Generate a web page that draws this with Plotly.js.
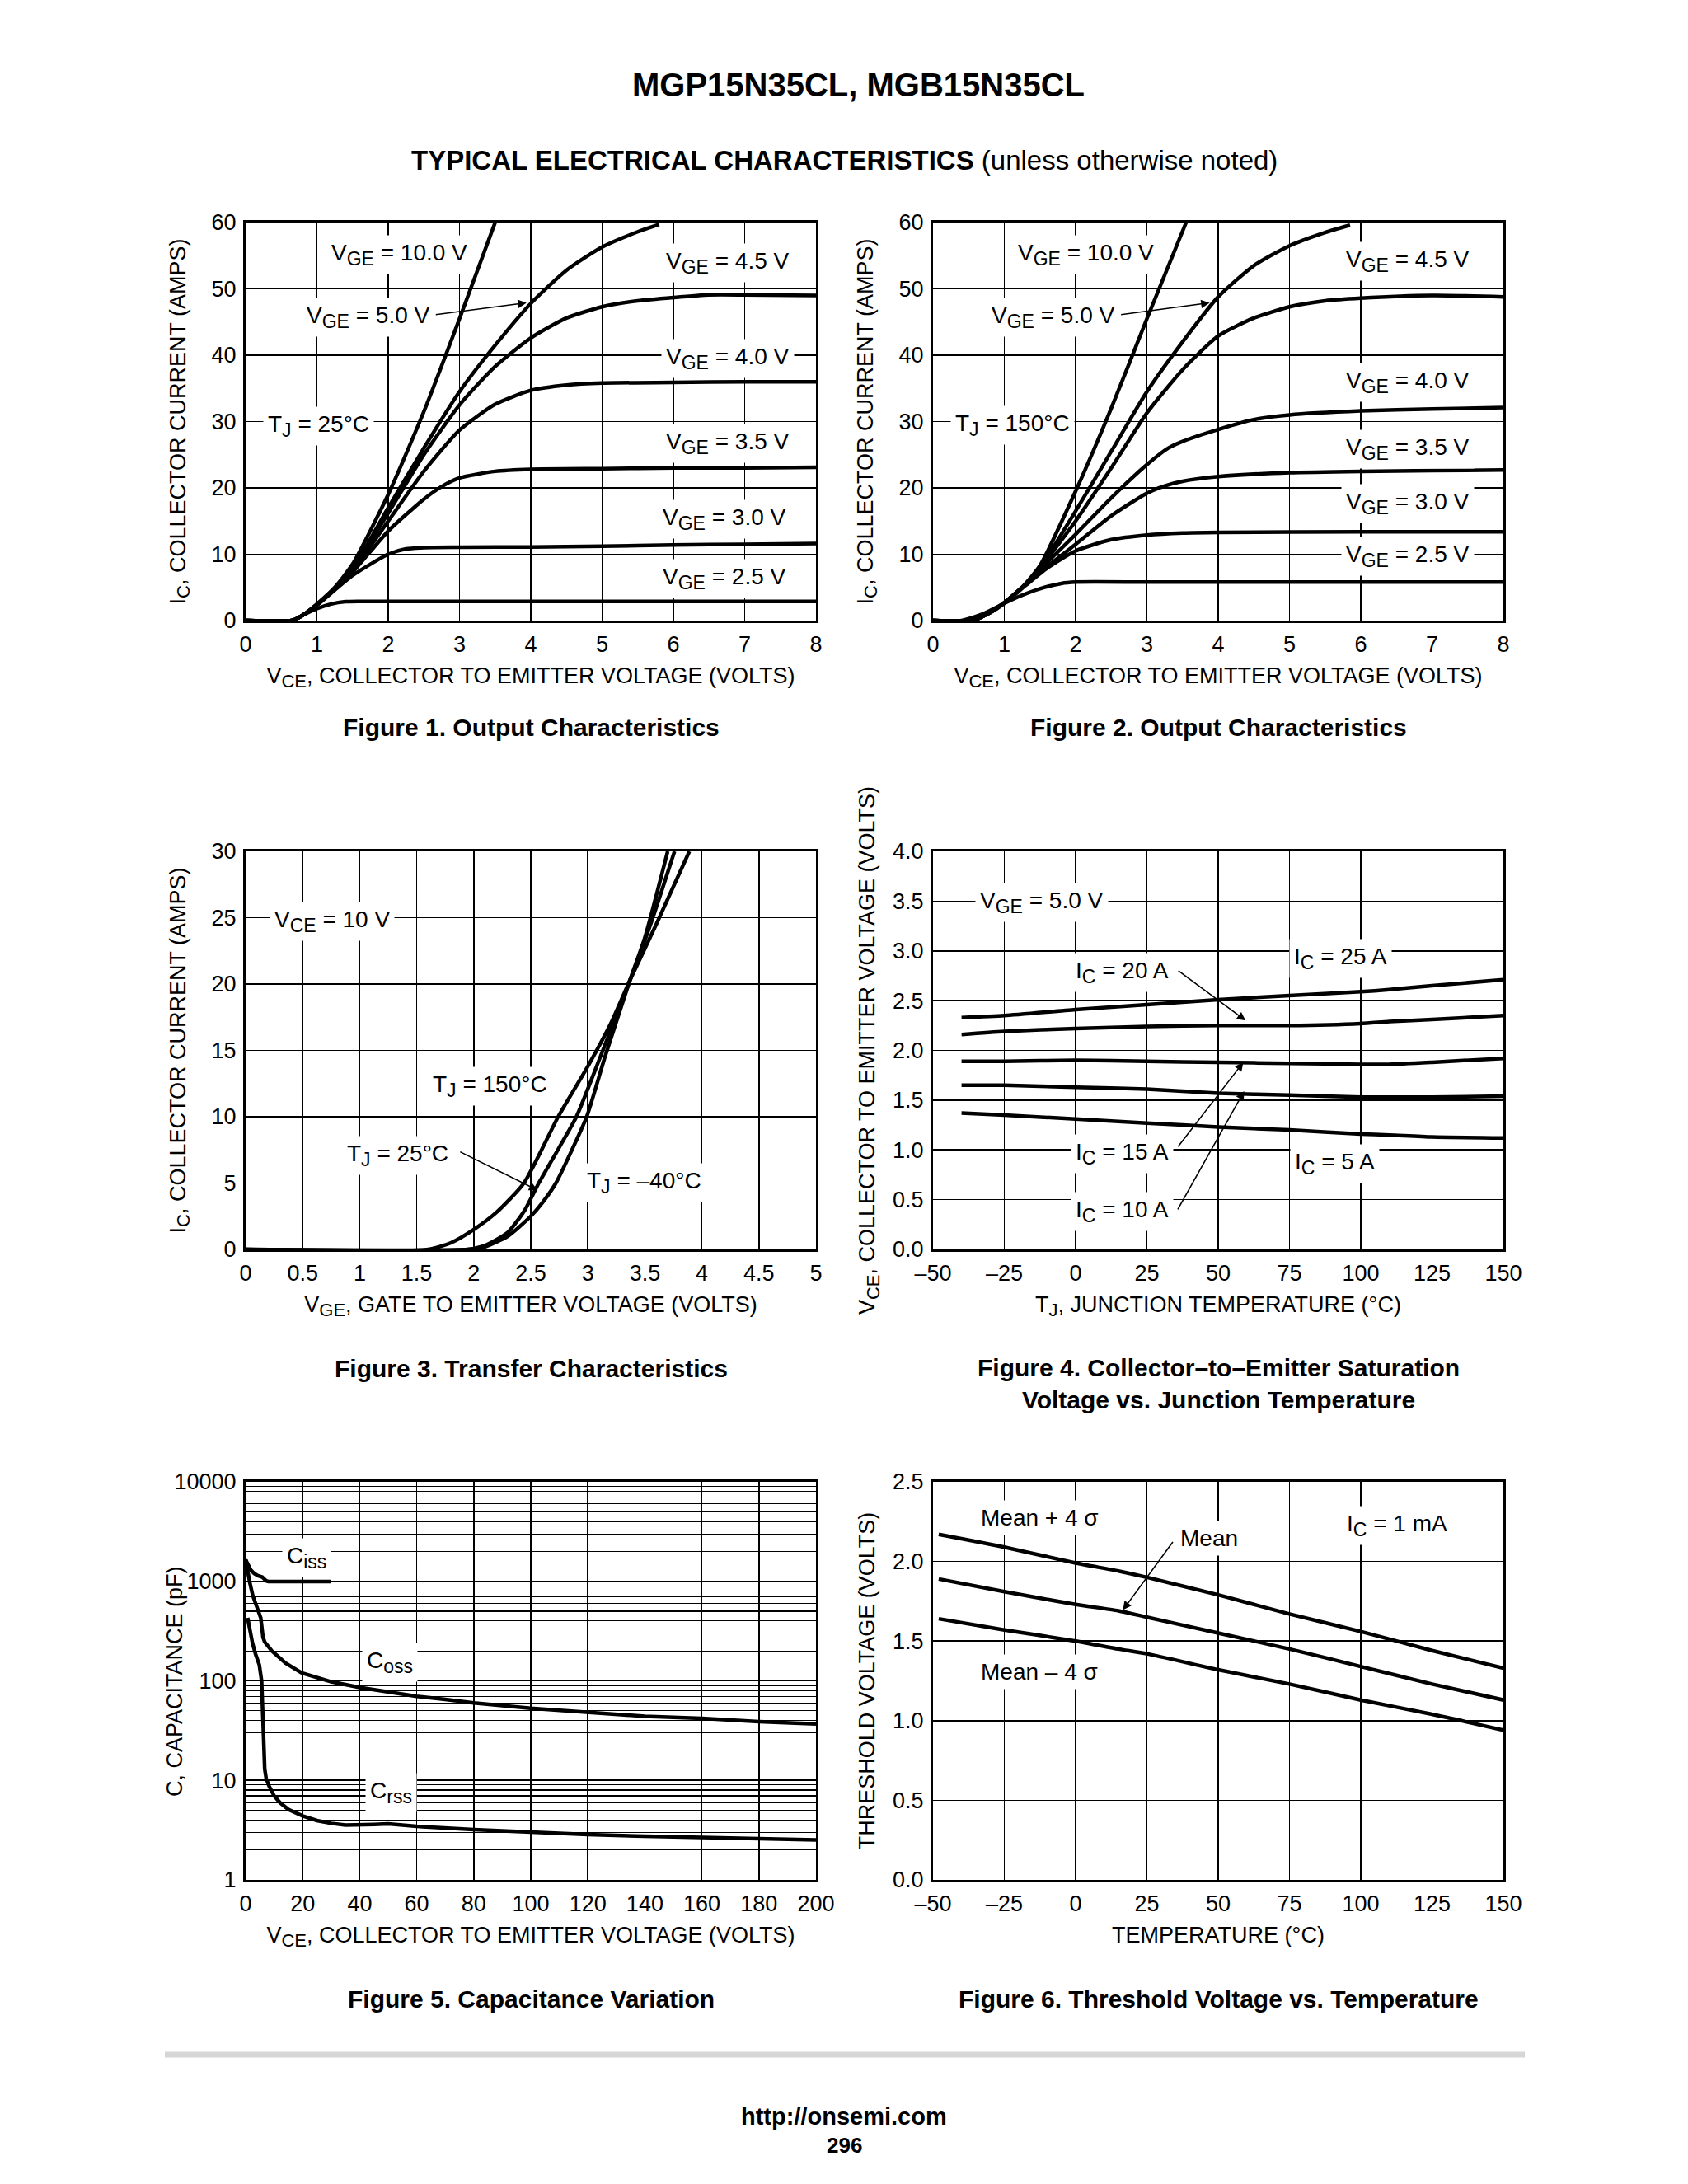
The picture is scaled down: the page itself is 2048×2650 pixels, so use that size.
<!DOCTYPE html>
<html>
<head>
<meta charset="utf-8">
<script src="https://cdn.plot.ly/plotly-3.0.1.min.js"></script>
<style>
  html, body { margin: 0; padding: 0; background: #fff; }
  #chart { width: 2048px; height: 2650px; }
</style>
</head>
<body>
<div id="chart"></div>
<script>
// ---------------- DATA ----------------
// Figure 1: Output characteristics, TJ = 25°C (VCE volts, IC amps)
const f1_x_vge10 = [0, 0.65, 0.8, 1.0, 1.25, 1.5, 2.0, 2.5, 3.0, 3.5];
const f1_y_vge10 = [0, 0, 0.8, 2.5, 5.0, 8.5, 19.0, 31.5, 45.5, 60];
const f1_x_vge50 = [0, 0.65, 0.8, 1.0, 1.25, 1.5, 2.0, 2.5, 3.0, 3.5, 4.0, 4.5, 5.0, 5.5, 5.8];
const f1_y_vge50 = [0, 0, 0.8, 2.4, 4.8, 7.8, 17.0, 26.0, 34.5, 41.5, 47.8, 52.8, 56.3, 58.6, 59.7];
const f1_x_vge45 = [0, 0.65, 0.8, 1.0, 1.25, 1.5, 2.0, 2.5, 3.0, 3.5, 4.0, 4.5, 5.0, 5.5, 6.0, 6.5, 7.0, 8.0];
const f1_y_vge45 = [0, 0, 0.8, 2.4, 4.8, 7.7, 16.2, 25.0, 32.5, 38.3, 42.6, 45.6, 47.3, 48.2, 48.7, 49.1, 49.1, 49.0];
const f1_x_vge40 = [0, 0.65, 0.8, 1.0, 1.25, 1.5, 2.0, 2.5, 3.0, 3.5, 4.0, 4.5, 5.0, 6.0, 7.0, 8.0];
const f1_y_vge40 = [0, 0, 0.8, 2.4, 4.8, 7.5, 15.0, 22.5, 28.7, 32.6, 34.7, 35.5, 35.8, 35.9, 36.0, 36.0];
const f1_x_vge35 = [0, 0.65, 0.8, 1.0, 1.25, 1.5, 2.0, 2.5, 2.75, 3.0, 3.5, 4.0, 5.0, 6.0, 7.0, 8.0];
const f1_y_vge35 = [0, 0, 0.8, 2.4, 4.8, 7.3, 13.5, 18.3, 20.2, 21.5, 22.5, 22.8, 22.9, 23.0, 23.0, 23.1];
const f1_x_vge30 = [0, 0.65, 0.8, 1.0, 1.25, 1.5, 1.75, 2.0, 2.25, 2.5, 3.0, 4.0, 5.0, 6.0, 7.0, 8.0];
const f1_y_vge30 = [0, 0, 0.8, 2.3, 4.6, 6.8, 8.5, 10.0, 10.8, 11.0, 11.05, 11.1, 11.2, 11.4, 11.5, 11.6];
const f1_x_vge25 = [0, 0.65, 0.8, 1.0, 1.2, 1.4, 1.6, 2.0, 4.0, 6.0, 8.0];
const f1_y_vge25 = [0, 0, 0.8, 1.8, 2.5, 2.85, 2.9, 2.9, 2.9, 2.9, 2.9];

// Figure 2: Output characteristics, TJ = 150°C
const f2_x_vge10 = [0, 0.55, 0.8, 1.0, 1.25, 1.5, 2.0, 2.5, 3.0, 3.55];
const f2_y_vge10 = [0, 0, 1.2, 2.7, 5.0, 8.3, 19.5, 32.0, 45.5, 60];
const f2_x_vge50 = [0, 0.55, 0.8, 1.0, 1.25, 1.5, 2.0, 2.5, 3.0, 3.5, 4.0, 4.5, 5.0, 5.5, 5.85];
const f2_y_vge50 = [0, 0, 1.2, 2.7, 5.0, 8.0, 16.5, 25.5, 34.5, 42.0, 48.8, 53.5, 56.5, 58.5, 59.6];
const f2_x_vge45 = [0, 0.55, 0.8, 1.0, 1.25, 1.5, 2.0, 2.5, 3.0, 3.5, 4.0, 4.5, 5.0, 5.5, 6.0, 7.0, 8.0];
const f2_y_vge45 = [0, 0, 1.2, 2.7, 5.0, 7.9, 15.0, 23.0, 31.3, 37.8, 42.9, 45.6, 47.3, 48.2, 48.6, 49.0, 48.8];
const f2_x_vge40 = [0, 0.55, 0.8, 1.0, 1.25, 1.5, 2.0, 2.5, 3.0, 3.3, 3.5, 4.0, 4.5, 5.0, 6.0, 7.0, 8.0];
const f2_y_vge40 = [0, 0, 1.2, 2.7, 5.0, 7.7, 13.0, 18.5, 23.5, 26.0, 27.0, 28.8, 30.3, 31.0, 31.6, 31.9, 32.1];
const f2_x_vge35 = [0, 0.5, 0.8, 1.0, 1.25, 1.5, 2.0, 2.5, 3.0, 3.25, 3.5, 4.0, 5.0, 6.0, 7.0, 8.0];
const f2_y_vge35 = [0, 0, 1.2, 2.7, 5.0, 7.3, 11.5, 15.8, 19.2, 20.3, 21.0, 21.7, 22.3, 22.5, 22.6, 22.7];
const f2_x_vge30 = [0, 0.5, 0.8, 1.0, 1.3, 1.6, 2.0, 2.5, 3.0, 3.5, 4.0, 6.0, 8.0];
const f2_y_vge30 = [0, 0, 1.2, 2.6, 5.3, 7.9, 10.5, 12.2, 12.9, 13.2, 13.3, 13.4, 13.4];
const f2_x_vge25 = [0, 0.4, 0.7, 1.0, 1.2, 1.5, 1.8, 2.0, 3.0, 5.0, 8.0];
const f2_y_vge25 = [0, 0, 1.0, 2.6, 3.6, 4.8, 5.6, 5.8, 5.8, 5.8, 5.8];

// Figure 3: Transfer characteristics (VGE volts, IC amps)
const f3_x_150 = [0, 1.6, 1.8, 2.0, 2.2, 2.44, 2.74, 3.0, 3.2, 3.37, 3.6, 3.89];
const f3_y_150 = [0, 0, 0.5, 1.5, 2.8, 5.0, 10.0, 13.8, 17.0, 20.3, 24.5, 30];
const f3_x_25  = [0, 1.95, 2.1, 2.3, 2.45, 2.57, 2.75, 2.9, 3.1, 3.37, 3.55, 3.76];
const f3_y_25  = [0, 0, 0.3, 1.3, 3.0, 5.0, 7.7, 10.0, 14.3, 20.3, 24.5, 30];
const f3_x_m40 = [0, 1.95, 2.1, 2.3, 2.5, 2.6, 2.72, 2.85, 2.99, 3.15, 3.37, 3.5, 3.7];
const f3_y_m40 = [0, 0, 0.2, 1.0, 2.5, 3.5, 5.0, 7.3, 10.0, 14.5, 20.3, 23.5, 30];

// Figure 4: VCE(sat) vs junction temperature
const f4_tj   = [-40, -25, 0, 25, 50, 75, 100, 110, 125, 150];
const f4_ic25 = [2.33, 2.35, 2.41, 2.46, 2.51, 2.55, 2.59, 2.61, 2.65, 2.71];
const f4_ic20 = [2.16, 2.19, 2.22, 2.24, 2.25, 2.25, 2.27, 2.29, 2.31, 2.35];
const f4_ic15 = [1.89, 1.89, 1.90, 1.89, 1.88, 1.87, 1.86, 1.86, 1.88, 1.92];
const f4_ic10 = [1.65, 1.65, 1.63, 1.61, 1.57, 1.55, 1.53, 1.53, 1.53, 1.54];
const f4_ic5  = [1.37, 1.35, 1.31, 1.27, 1.23, 1.20, 1.16, 1.15, 1.13, 1.12];

// Figure 5: Capacitance variation (VCE volts, pF)
const f5_x_ciss = [0, 0.8, 1.9, 3.0, 4.3, 5.8, 6.7, 7.2, 8, 15, 30];
const f5_y_ciss = [1650, 1460, 1290, 1200, 1140, 1105, 1040, 1010, 995, 995, 995];
const f5_x_coss = [0, 0.7, 1.45, 2.5, 3.9, 5.3, 6.1, 6.7, 9.2, 14, 19.7, 25, 30, 40, 50, 60, 70, 80, 100, 120, 140, 160, 180, 200];
const f5_y_coss = [1650, 1250, 975, 720, 550, 430, 274, 246, 200, 151, 120, 108, 98, 86, 77, 70, 65, 60, 53, 48, 44, 42, 39, 37];
const f5_x_crss = [0.7, 1.5, 2.4, 3.5, 4.8, 5.6, 6.1, 6.7, 7.2, 8.2, 10, 12, 15, 20, 25, 30, 35, 40, 45, 50, 60, 80, 100, 120, 140, 160, 180, 200];
const f5_y_crss = [430, 320, 240, 185, 145, 100, 46, 13, 10.5, 8.8, 7.0, 6.0, 5.1, 4.4, 3.95, 3.7, 3.55, 3.55, 3.6, 3.65, 3.45, 3.2, 3.0, 2.85, 2.75, 2.68, 2.6, 2.52];

// Figure 6: Threshold voltage vs temperature
const f6_t     = [-48, -25, 0, 15, 25, 50, 75, 100, 125, 150];
const f6_plus  = [2.17, 2.09, 1.99, 1.94, 1.90, 1.79, 1.67, 1.56, 1.44, 1.33];
const f6_mean  = [1.89, 1.81, 1.73, 1.69, 1.65, 1.55, 1.45, 1.34, 1.23, 1.13];
const f6_minus = [1.64, 1.57, 1.50, 1.45, 1.42, 1.32, 1.23, 1.13, 1.04, 0.94];

// tick labels
const tempTickVals = [-50, -25, 0, 25, 50, 75, 100, 125, 150];
const tempTickText = ['\u201350', '\u201325', '0', '25', '50', '75', '100', '125', '150'];
const capTickVals = [1, 10, 100, 1000, 10000];
const capTickText = ['1', '10', '100', '1000', '10000'];

// ---------------- STYLE ----------------
const FONT = 'Liberation Sans, Arial, Helvetica, sans-serif';
const W = 2048, H = 2650;
const TICK = 27, LBL = 28, AXT = 27;

function px(x) { return x / W; }
function py(y) { return 1 - y / H; }
// larger subscript than Plotly's default 70%
function S(t, size) { return '<sub><span style="font-size:' + size + 'px">' + t + '</span></sub>'; }
function SL(t) { return S(t, 23); }   // subscript in plot labels
function SA(t) { return S(t, 22); }   // subscript in axis titles

const colL = [px(298), px(990)];
const colR = [px(1132), px(1824)];
const row1 = [py(753), py(270)];
const row2 = [py(1516), py(1033)];
const row3 = [py(2281), py(1798)];

function line(x, y, xa, ya, shape) {
  return { x: x, y: y, xaxis: xa, yaxis: ya, type: 'scatter', mode: 'lines',
    line: { color: '#000', width: 4.5, shape: shape || 'spline', smoothing: 0.6 },
    showlegend: false, hoverinfo: 'skip' };
}

function axis(domain, anchor, range, dtick, title, standoff, extra) {
  const a = {
    domain: domain, anchor: anchor, range: range, dtick: dtick,
    showgrid: true, gridcolor: '#000', gridwidth: 1.6,
    showline: true, mirror: true, linecolor: '#000', linewidth: 3,
    zeroline: false, ticks: '', ticklabelstandoff: 3,
    tickfont: { family: FONT, size: TICK, color: '#000' },
    title: { text: title, font: { family: FONT, size: AXT, color: '#000' }, standoff: standoff },
    fixedrange: true, automargin: false
  };
  return Object.assign(a, extra || {});
}

function lab(xr, yr, x, y, text) {
  return { xref: xr, yref: yr, x: x, y: y, text: text, showarrow: false,
    bgcolor: '#fff', borderpad: 5,
    font: { family: FONT, size: LBL, color: '#000' } };
}
function arrow(xr, yr, tx, ty, hx, hy) {
  return { xref: xr, yref: yr, axref: xr, ayref: yr, x: hx, y: hy, ax: tx, ay: ty,
    text: '', showarrow: true, arrowhead: 2, arrowsize: 1.3, arrowwidth: 1.6, arrowcolor: '#000' };
}
function paperText(x, y, text, size, extra) {
  return Object.assign({ xref: 'paper', yref: 'paper', x: px(x), y: py(y), text: text,
    showarrow: false, xanchor: 'center', yanchor: 'middle',
    font: { family: FONT, size: size, color: '#000' } }, extra || {});
}

// ---------------- TRACES ----------------
const traces = [
  line(f1_x_vge10, f1_y_vge10, 'x', 'y'),
  line(f1_x_vge50, f1_y_vge50, 'x', 'y'),
  line(f1_x_vge45, f1_y_vge45, 'x', 'y'),
  line(f1_x_vge40, f1_y_vge40, 'x', 'y'),
  line(f1_x_vge35, f1_y_vge35, 'x', 'y'),
  line(f1_x_vge30, f1_y_vge30, 'x', 'y'),
  line(f1_x_vge25, f1_y_vge25, 'x', 'y'),

  line(f2_x_vge10, f2_y_vge10, 'x2', 'y2'),
  line(f2_x_vge50, f2_y_vge50, 'x2', 'y2'),
  line(f2_x_vge45, f2_y_vge45, 'x2', 'y2'),
  line(f2_x_vge40, f2_y_vge40, 'x2', 'y2'),
  line(f2_x_vge35, f2_y_vge35, 'x2', 'y2'),
  line(f2_x_vge30, f2_y_vge30, 'x2', 'y2'),
  line(f2_x_vge25, f2_y_vge25, 'x2', 'y2'),

  line(f3_x_150, f3_y_150, 'x3', 'y3'),
  line(f3_x_25, f3_y_25, 'x3', 'y3'),
  line(f3_x_m40, f3_y_m40, 'x3', 'y3'),

  line(f4_tj, f4_ic25, 'x4', 'y4'),
  line(f4_tj, f4_ic20, 'x4', 'y4'),
  line(f4_tj, f4_ic15, 'x4', 'y4'),
  line(f4_tj, f4_ic10, 'x4', 'y4'),
  line(f4_tj, f4_ic5, 'x4', 'y4'),

  line(f5_x_ciss, f5_y_ciss, 'x5', 'y5', 'linear'),
  line(f5_x_coss, f5_y_coss, 'x5', 'y5', 'linear'),
  line(f5_x_crss, f5_y_crss, 'x5', 'y5', 'linear'),

  line(f6_t, f6_plus, 'x6', 'y6'),
  line(f6_t, f6_mean, 'x6', 'y6'),
  line(f6_t, f6_minus, 'x6', 'y6')
];

const VCE_T = 'V' + SA('CE') + ', COLLECTOR TO EMITTER VOLTAGE (VOLTS)';
const IC_T = 'I' + SA('C') + ', COLLECTOR CURRENT (AMPS)';
const VGE = 'V' + SL('GE');
const IC = 'I' + SL('C');
const TJ = 'T' + SL('J');

const layout = {
  width: W, height: H,
  margin: { l: 0, r: 0, t: 0, b: 0 },
  paper_bgcolor: '#fff', plot_bgcolor: '#fff',
  showlegend: false,
  font: { family: FONT, color: '#000' },

  xaxis:  axis(colL, 'y',  [0, 8], 1, VCE_T, 14),
  yaxis:  axis(row1, 'x',  [0, 60], 10, IC_T, 24),
  xaxis2: axis(colR, 'y2', [0, 8], 1, VCE_T, 14),
  yaxis2: axis(row1, 'x2', [0, 60], 10, IC_T, 24),
  xaxis3: axis(colL, 'y3', [0, 5], 0.5, 'V' + SA('GE') + ', GATE TO EMITTER VOLTAGE (VOLTS)', 14),
  yaxis3: axis(row2, 'x3', [0, 30], 5, IC_T, 24),
  xaxis4: axis(colR, 'y4', [-50, 150], 25, 'T' + SA('J') + ', JUNCTION TEMPERATURE (\u00B0C)', 14,
          { tickmode: 'array', tickvals: tempTickVals, ticktext: tempTickText }),
  yaxis4: axis(row2, 'x4', [0, 4], 0.5, VCE_T, 14, { tickformat: '.1f' }),
  xaxis5: axis(colL, 'y5', [0, 200], 20, VCE_T, 14),
  yaxis5: axis(row3, 'x5', [0, 4], 1, '', 0,
          { type: 'log', tickmode: 'array', tickvals: capTickVals, ticktext: capTickText,
            minor: { dtick: 'D1', showgrid: true, gridcolor: '#000', gridwidth: 1.2, ticks: '' } }),
  xaxis6: axis(colR, 'y6', [-50, 150], 25, 'TEMPERATURE (\u00B0C)', 14,
          { tickmode: 'array', tickvals: tempTickVals, ticktext: tempTickText }),
  yaxis6: axis(row3, 'x6', [0, 2.5], 0.5, 'THRESHOLD VOLTAGE (VOLTS)', 14, { tickformat: '.1f' }),

  shapes: [
    { type: 'line', xref: 'paper', yref: 'paper', x0: px(200), x1: px(1850), y0: py(2493), y1: py(2493),
      line: { color: '#d6d6d6', width: 7 } }
  ],

  annotations: [
    // page header
    paperText(1041, 103, '<b>MGP15N35CL, MGB15N35CL</b>', 40),
    paperText(1024, 195, '<b>TYPICAL ELECTRICAL CHARACTERISTICS</b> (unless otherwise noted)', 33),
    // captions
    paperText(644, 882, '<b>Figure 1. Output Characteristics</b>', 30),
    paperText(1478, 882, '<b>Figure 2. Output Characteristics</b>', 30),
    paperText(644, 1660, '<b>Figure 3. Transfer Characteristics</b>', 30),
    paperText(1478, 1679, '<b>Figure 4. Collector\u2013to\u2013Emitter Saturation<br>Voltage vs. Junction Temperature</b>', 30),
    paperText(644, 2425, '<b>Figure 5. Capacitance Variation</b>', 30),
    paperText(1478, 2425, '<b>Figure 6. Threshold Voltage vs. Temperature</b>', 30),
    // Figure 5 y-axis title (placed close to the tick labels as in the original)
    paperText(212, 2040, 'C, CAPACITANCE (pF)', AXT, { textangle: -90 }),
    // footer
    paperText(1024, 2568, '<b>http://onsemi.com</b>', 29),
    paperText(1024, 2603, '<b>296</b>', 26),

    // Figure 1 labels
    lab('x', 'y', 2.16, 55.2, VGE + ' = 10.0 V'),
    lab('x', 'y', 6.76, 53.9, VGE + ' = 4.5 V'),
    lab('x', 'y', 1.72, 45.7, VGE + ' = 5.0 V'),
    arrow('x', 'y', 2.65, 46.1, 3.94, 47.9),
    lab('x', 'y', 6.76, 39.5, VGE + ' = 4.0 V'),
    lab('x', 'y', 6.76, 26.7, VGE + ' = 3.5 V'),
    lab('x', 'y', 6.72, 15.3, VGE + ' = 3.0 V'),
    lab('x', 'y', 6.72, 6.3, VGE + ' = 2.5 V'),
    lab('x', 'y', 1.02, 29.3, TJ + ' = 25\u00B0C'),

    // Figure 2 labels
    lab('x2', 'y2', 2.15, 55.2, VGE + ' = 10.0 V'),
    lab('x2', 'y2', 6.66, 54.2, VGE + ' = 4.5 V'),
    lab('x2', 'y2', 1.69, 45.7, VGE + ' = 5.0 V'),
    arrow('x2', 'y2', 2.62, 46.1, 3.88, 47.9),
    lab('x2', 'y2', 6.66, 35.9, VGE + ' = 4.0 V'),
    lab('x2', 'y2', 6.66, 25.9, VGE + ' = 3.5 V'),
    lab('x2', 'y2', 6.66, 17.65, VGE + ' = 3.0 V'),
    lab('x2', 'y2', 6.66, 9.7, VGE + ' = 2.5 V'),
    lab('x2', 'y2', 1.12, 29.5, TJ + ' = 150\u00B0C'),

    // Figure 3 labels
    lab('x3', 'y3', 0.76, 24.7, 'V' + SL('CE') + ' = 10 V'),
    lab('x3', 'y3', 2.14, 12.3, TJ + ' = 150\u00B0C'),
    lab('x3', 'y3', 1.33, 7.1, TJ + ' = 25\u00B0C'),
    arrow('x3', 'y3', 1.87, 7.4, 2.56, 4.46),
    lab('x3', 'y3', 3.49, 5.0, TJ + ' = \u201340\u00B0C'),

    // Figure 4 labels
    lab('x4', 'y4', -11.8, 3.49, VGE + ' = 5.0 V'),
    lab('x4', 'y4', 93, 2.92, IC + ' = 25 A'),
    lab('x4', 'y4', 16.2, 2.78, IC + ' = 20 A'),
    arrow('x4', 'y4', 35.6, 2.81, 59.6, 2.30),
    lab('x4', 'y4', 16.2, 0.96, IC + ' = 15 A'),
    arrow('x4', 'y4', 35.6, 1.02, 58.8, 1.88),
    lab('x4', 'y4', 16.2, 0.38, IC + ' = 10 A'),
    arrow('x4', 'y4', 35.6, 0.39, 59.1, 1.59),
    lab('x4', 'y4', 90.8, 0.865, IC + ' = 5 A'),

    // Figure 5 labels (log axis: y given as log10)
    lab('x5', 'y5', 21.3, Math.log10(1730), 'C' + SL('iss')),
    lab('x5', 'y5', 50.7, Math.log10(154), 'C' + SL('oss')),
    lab('x5', 'y5', 51, Math.log10(7.6), 'C' + SL('rss')),

    // Figure 6 labels
    lab('x6', 'y6', -12.6, 2.273, 'Mean + 4 \u03C3'),
    lab('x6', 'y6', 46.7, 2.146, 'Mean'),
    arrow('x6', 'y6', 34.4, 2.13, 16.6, 1.695),
    lab('x6', 'y6', 112.6, 2.227, IC + ' = 1 mA'),
    lab('x6', 'y6', -12.6, 1.307, 'Mean \u2013 4 \u03C3')
  ]
};

Plotly.newPlot('chart', traces, layout, { staticPlot: true, displayModeBar: false });
</script>
</body>
</html>
